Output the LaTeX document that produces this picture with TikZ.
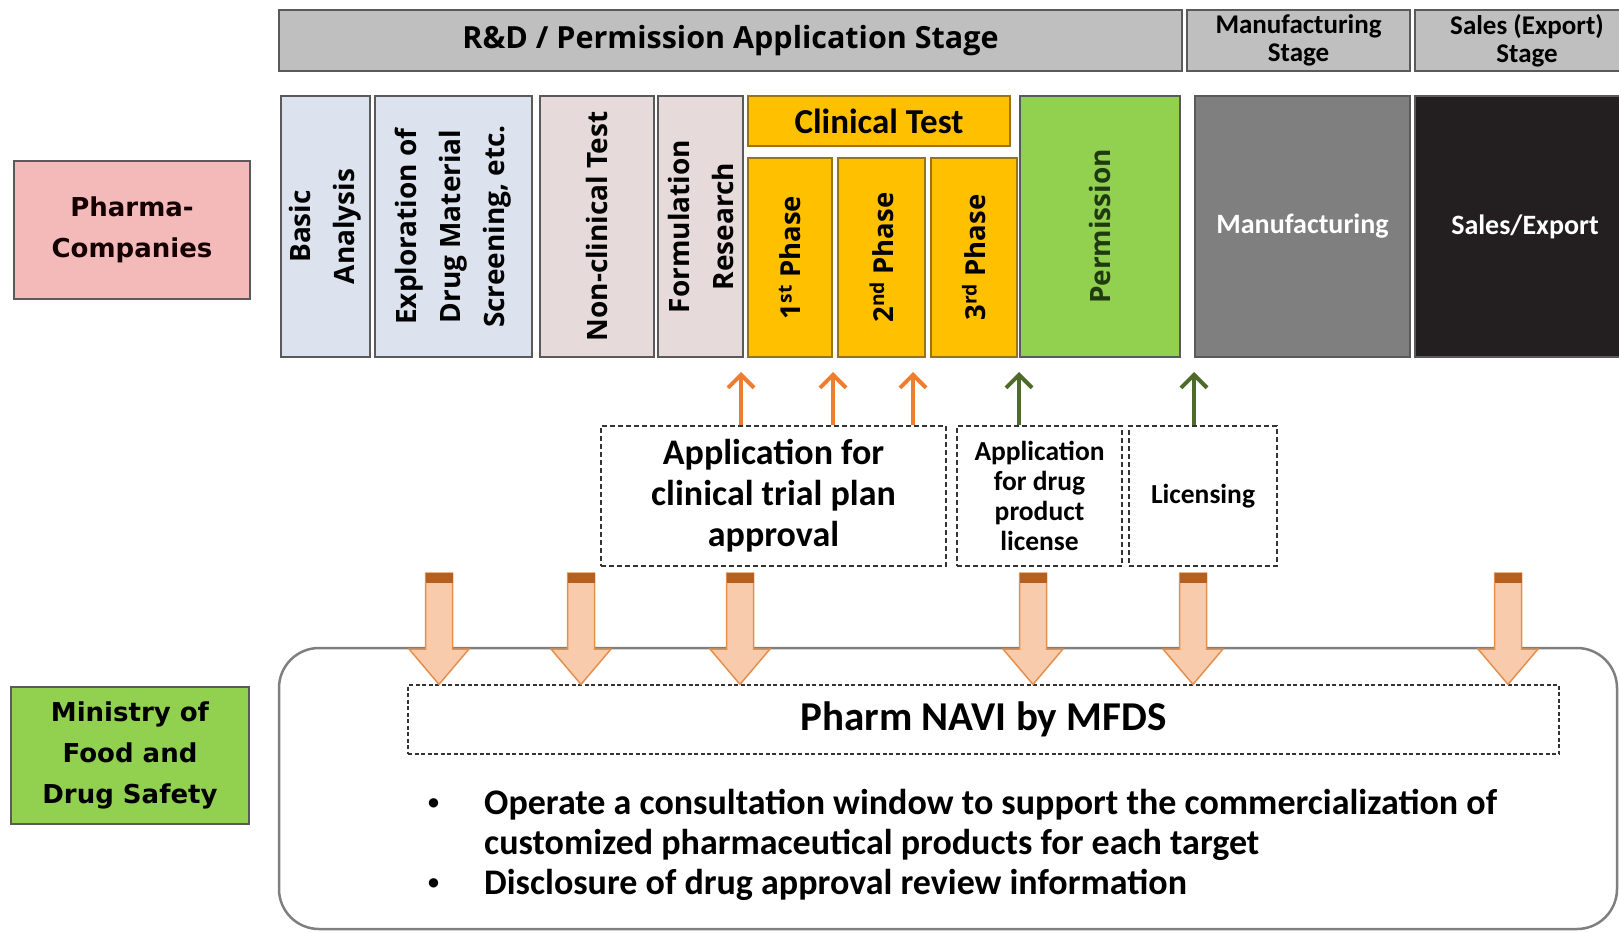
\documentclass[tikz,border=0pt]{standalone}
\usepackage{fontspec}
\setmainfont{Open Sans}
\newfontfamily\carlito{Carlito}
\newfontfamily\dejavu{DejaVu Sans}
\usetikzlibrary{arrows.meta, positioning, calc}

\definecolor{hdrgray}{HTML}{BFBFBF}
\definecolor{linegray}{HTML}{5A5A5A}
\definecolor{paleblue}{HTML}{DCE3EE}
\definecolor{palerose}{HTML}{E6DADA}
\definecolor{amber}{HTML}{FFC000}
\definecolor{amberline}{HTML}{9A7412}
\definecolor{leaf}{HTML}{92D050}
\definecolor{leafink}{HTML}{1F3A10}
\definecolor{midgray}{HTML}{7F7F7F}
\definecolor{inkblack}{HTML}{231F20}
\definecolor{rose}{HTML}{F4B9B9}
\definecolor{arrorange}{HTML}{ED7D31}
\definecolor{arrgreen}{HTML}{4F6B2A}
\definecolor{peach}{HTML}{F8CBAD}
\definecolor{peachline}{HTML}{E3904F}
\definecolor{rust}{HTML}{B5601E}

\newcommand{\smallbullet}{\raisebox{5pt}{\fontsize{22}{22}\selectfont\textbullet}}

\begin{document}
\begin{tikzpicture}[x=1pt, y=-1pt,
    stage/.style={draw=linegray, line width=1.6pt, fill=hdrgray, inner sep=0pt,
      align=center},
    col/.style={draw=linegray, line width=1.6pt, inner sep=0pt, align=center,
      rotate=90, minimum width=261pt, font=\bfseries\fontsize{28}{44}\selectfont},
    phase/.style={col, fill=amber, draw=amberline, minimum width=199pt,
      font=\bfseries\fontsize{27.5}{30}\selectfont},
    side/.style={draw=linegray, line width=1.6pt, minimum width=236pt,
      minimum height=138pt, align=center,
      font=\dejavu\bfseries\fontsize{26}{41}\selectfont},
    app/.style={draw=black!80, line width=1.2pt, dash pattern=on 5pt off 3pt,
      minimum height=140pt, inner sep=0pt, align=center},
    uparr/.style={-{Straight Barb[length=13pt, width=26pt]}, line width=4pt},
    blockarr/.style={fill=peach, draw=peachline, line width=1.5pt},
  ]
  \useasboundingbox (0,0) rectangle (1619,933);

  % ---- stage headers ----
  \node[stage, minimum width=903pt, minimum height=61pt,
    font=\bfseries\fontsize{30.5}{36}\selectfont] (rnd) at (730.5,40.5)
    {R\&D / Permission Application Stage};
  \node[stage, minimum width=223pt, minimum height=61pt,
    font=\carlito\bfseries\fontsize{27}{28}\selectfont] (mfgstage) at (1298.5,40.5)
    {Manufacturing\\Stage};
  \node[stage, minimum width=224pt, minimum height=61pt,
    font=\carlito\bfseries\fontsize{27}{28}\selectfont] (salestage) at (1527,40.5)
    {Sales (Export)\\Stage};

  % ---- R&D columns ----
  \node[col, fill=paleblue, minimum height=89pt] (basic) at (325.5,226.5)
    {Basic\\Analysis};
  \node[col, fill=paleblue, minimum height=157pt] (explore) at (453.5,226.5)
    {Exploration of\\Drug Material\\Screening, etc.};
  \node[col, fill=palerose, minimum height=114pt] (nonclin) at (597,226.5)
    {Non-clinical Test};
  \node[col, fill=palerose, minimum height=85pt] (formul) at (700.5,226.5)
    {Formulation\\Research};

  % clinical test and its phases
  \node[stage, fill=amber, draw=amberline, minimum width=262pt, minimum height=50pt,
    font=\carlito\bfseries\fontsize{35}{36}\selectfont] (clin) at (879,121)
    {Clinical Test};
  \node[phase, minimum height=84pt] (ph1) at (790,257.5) {1\textsuperscript{st} Phase};
  \node[phase, minimum height=87pt] (ph2) at (881.5,257.5) {2\textsuperscript{nd} Phase};
  \node[phase, minimum height=86pt] (ph3) at (974,257.5) {3\textsuperscript{rd} Phase};

  \node[col, fill=leaf, text=leafink, minimum height=160pt] (permit) at (1100,226.5)
    {Permission};

  % manufacturing and sales
  \node[stage, fill=midgray, text=white, minimum width=215pt, minimum height=261pt,
    font=\carlito\bfseries\fontsize{28}{30}\selectfont] (mfg) at (1302.5,226.5)
    {Manufacturing};
  \node[stage, fill=inkblack, text=white, minimum width=220pt, minimum height=261pt,
    font=\carlito\bfseries\fontsize{28}{30}\selectfont] (sales) at (1525,226.5)
    {Sales/Export};

  % ---- actors ----
  \node[side, fill=rose, text=black!92!red] (pharma) at (132,230)
    {Pharma-\\Companies};
  \node[side, fill=leaf, minimum width=238pt, minimum height=137pt] (ministry)
    at (130,755.5) {Ministry of\\Food and\\Drug Safety};

  % ---- applications ----
  \node[app, minimum width=345pt, font=\carlito\bfseries\fontsize{36}{41}\selectfont]
    (ctap) at (773.5,496) {Application for\\clinical trial plan\\approval};
  \node[app, minimum width=165pt, font=\carlito\bfseries\fontsize{27.5}{30}\selectfont]
    (drug) at (1039.5,496) {Application\\for drug\\product\\license};
  \node[app, minimum width=148pt, font=\carlito\bfseries\fontsize{27.5}{30}\selectfont]
    (lic) at (1203,496) {Licensing};

  \coordinate (up1) at (741,372);
  \coordinate (up2) at (833,372);
  \coordinate (up3) at (913,372);
  \coordinate (up4) at (1019,372);
  \coordinate (up5) at (1194,372);
  \foreach \k in {1,2,3}
    \draw[uparr, arrorange] (up\k |- ctap.north) -- (up\k);
  \draw[uparr, arrgreen] (up4 |- drug.north) -- (up4);
  \draw[uparr, arrgreen] (up5 |- lic.north) -- (up5);

  % ---- MFDS support ----
  \node[draw=midgray, line width=2.5pt, rounded corners=40pt, minimum width=1338pt,
    minimum height=281pt] (zone) at (948,788.5) {};
  \node[app, minimum width=1151pt, minimum height=69pt,
    dash pattern=on 4pt off 2.5pt,
    font=\carlito\bfseries\fontsize{41}{42}\selectfont] (navi) at (983.5,719.5)
    {Pharm NAVI by MFDS};
  \node[anchor=west, inner sep=0pt, font=\carlito\bfseries\fontsize{36}{40}\selectfont]
    (bullets) at (428,846) {%
    \begin{tabular}{@{}p{56pt}@{}l@{}}
      \smallbullet & Operate a consultation window to support the commercialization of\\
                   & customized pharmaceutical products for each target\\
      \smallbullet & Disclosure of drug approval review information
    \end{tabular}};

  \foreach \x [count=\i] in {439,581,740,1033,1193,1508} {
    \coordinate (drop\i) at (\x,573);
    \filldraw[blockarr] ($(drop\i)+(-13.5,0)$) -- ($(drop\i)+(-13.5,76)$)
      -- ($(drop\i)+(-30,76)$) -- (drop\i |- navi.north)
      -- ($(drop\i)+(30,76)$) -- ($(drop\i)+(13.5,76)$)
      -- ($(drop\i)+(13.5,0)$) -- cycle;
    \fill[rust] ($(drop\i)+(-13.5,0)$) rectangle ($(drop\i)+(13.5,10)$);
  }
\end{tikzpicture}
\end{document}
